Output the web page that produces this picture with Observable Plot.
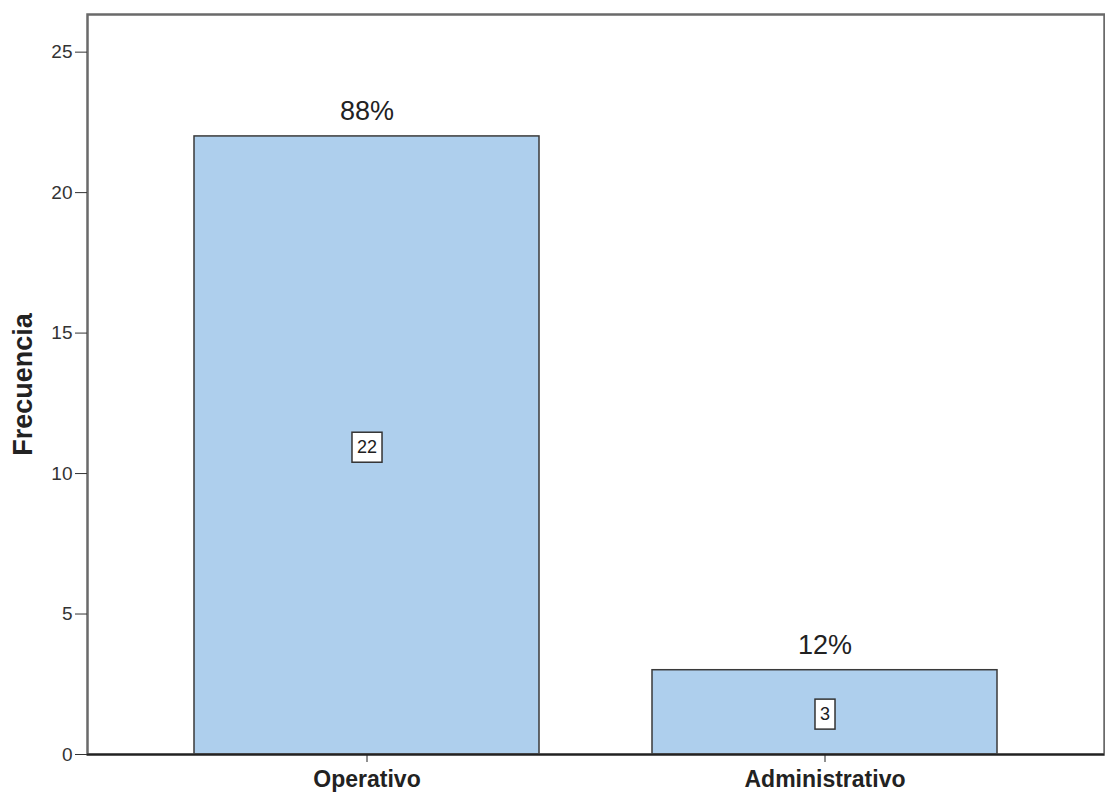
<!DOCTYPE html>
<html><head><meta charset="utf-8">
<script src="https://cdn.jsdelivr.net/npm/d3@7"></script>
<script src="https://cdn.jsdelivr.net/npm/@observablehq/plot@0.6"></script>
<style>body{margin:0;background:#fff;} svg{display:block}</style>
</head><body><div id="chart"></div>
<script>
const categories = ["Operativo", "Administrativo"];
const frequencies = [22, 3];
const percentLabels = ["88%", "12%"];
const yTicks = [0, 5, 10, 15, 20, 25];
const yLabel = "Frecuencia";

const data = categories.map((c, i) => ({cat: c, n: frequencies[i], pct: percentLabels[i]}));

const chart = Plot.plot({
  width: 1105, height: 796,
  marginLeft: 87, marginRight: 1, marginTop: 14, marginBottom: 42,
  style: {fontFamily: "'Liberation Sans', Arial, sans-serif", background: "#fff", overflow: "visible"},
  x: {domain: categories, paddingInner: 0.2475, paddingOuter: 0.233, label: null},
  y: {domain: [0, 26.34], label: null},
  marks: [
    Plot.barY(data, {x: "cat", y: "n", fill: "#aecfed", stroke: "#3a3a3a", strokeWidth: 1.5}),
    Plot.frame({stroke: "#6a6a6a", strokeWidth: 2.5}),
    Plot.ruleY([0], {stroke: "#222", strokeWidth: 2}),
    Plot.axisY({ticks: yTicks, tickSize: 12, tickPadding: 3, fontSize: 19, stroke: "#333", fill: "#333", label: null}),
    Plot.axisX({tickSize: 8, tickPadding: 8, fontSize: 23, fontWeight: "bold", stroke: "#222", fill: "#222", label: null}),
    Plot.text([yLabel], {frameAnchor: "left", textAnchor: "middle", rotate: -90, dx: -64, fontSize: 27, fontWeight: "bold", fill: "#222"}),
    Plot.text(data, {x: "cat", y: "n", text: "pct", dy: -25, fontSize: 27, fill: "#222"}),
    Plot.text(data, {x: "cat", y: d => d.n / 2, text: d => String(d.n), dy: 2, fontSize: 18, fill: "#202020"})
  ]
});
document.getElementById("chart").append(chart);

// white boxes behind the value labels
chart.querySelectorAll('g[fill="#202020"] text').forEach(t => {
  const b = t.getBBox();
  const padX = 5, padY = 6;
  const r = document.createElementNS("http://www.w3.org/2000/svg", "rect");
  r.setAttribute("x", b.x - padX);
  r.setAttribute("y", b.y - padY + 1);
  r.setAttribute("width", b.width + 2 * padX);
  r.setAttribute("height", b.height + 2 * padY - 2);
  r.setAttribute("fill", "#fff");
  r.setAttribute("stroke", "#333");
  r.setAttribute("stroke-width", "1.5");
  if (t.getAttribute("transform")) r.setAttribute("transform", t.getAttribute("transform"));
  t.parentNode.insertBefore(r, t);
});
</script>
</body></html>
